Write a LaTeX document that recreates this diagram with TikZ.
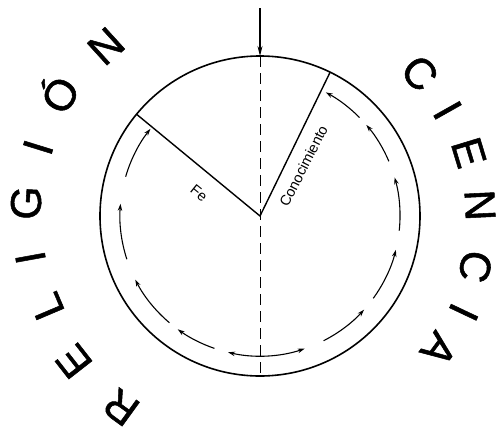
\documentclass[tikz,border=0pt]{standalone}
\usepackage{fontspec}
\setmainfont{Liberation Sans}
\newfontfamily\heavyfont[FakeBold=1.2]{Liberation Sans}
\usetikzlibrary{arrows.meta}

\begin{document}
\begin{tikzpicture}[x=1pt, y=1pt,
    bigletter/.style={font=\heavyfont\fontsize{43}{48}\selectfont, inner sep=0pt,
                      text height=31pt, text depth=0pt},
    radtext/.style={font=\fontsize{14.5}{16}\selectfont, inner sep=1pt},
    flow/.style={line width=1.1pt, -{Stealth[length=7pt, width=4.5pt]}}]

    \useasboundingbox (-260,-213) rectangle (237,216);

    % --- Coordinates ---
    \coordinate (O) at (0,0);        % centre
    \coordinate (top) at (90:160);
    \coordinate (bot) at (270:160);
    \coordinate (start) at (0,208);  % entry point above the circle
    \coordinate (fe) at (140.5:160);
    \coordinate (con) at (64:160);

    % --- Circle and axis ---
    \draw[line width=1.6pt] (O) circle (160);
    \draw[line width=1.2pt, -{Stealth[length=10pt, width=5pt]}] (start) -- (top);
    \draw[line width=0.9pt, dash pattern=on 11pt off 6pt] (top) -- (bot);

    % --- Radii ---
    \draw[line width=1.4pt] (fe) -- (O) -- (con);
    \node[radtext, rotate=-39] (felbl) at (-61,23) {Fe};
    \node[radtext, rotate=63] (conlbl) at (43.5,50) {Conocimiento};

    % --- Inner arrows ---
    \def\ri{140}
    \foreach \a/\b in {297/318, 324/346, 354/376, 23/40.6, 44.7/62,
                       251/234, 229.7/207, 198/175, 163.7/141.5}
        \draw[flow] ([shift={(\a:\ri)}]O) arc[start angle=\a, end angle=\b, radius=\ri];
    \draw[flow, {Stealth[length=7pt, width=4.5pt]}-{Stealth[length=7pt, width=4.5pt]}]
        ([shift={(256.8:\ri)}]O) arc[start angle=256.8, end angle=288.6, radius=\ri];

    % --- Outer words ---
    \foreach \ch/\ang/\rad [count=\i] in {R/234/237, E/218/237, L/203/232, I/190.3/234,
                                          G/176.8/235, I/162.8/233, Ó/148.8/234, N/132.2/230}
        \node[bigletter, rotate=\ang-90] (rel\i) at (\ang:\rad) {\ch};
    \foreach \ch/\ang/\rad [count=\i] in {C/41.8/215, I/29.4/216, E/16.9/219, N/2.8/221,
                                          C/-13.2/222, I/-25.3/226, A/-36.7/224}
        \node[bigletter, rotate=\ang-90] (cie\i) at (\ang:\rad) {\ch};

\end{tikzpicture}
\end{document}
